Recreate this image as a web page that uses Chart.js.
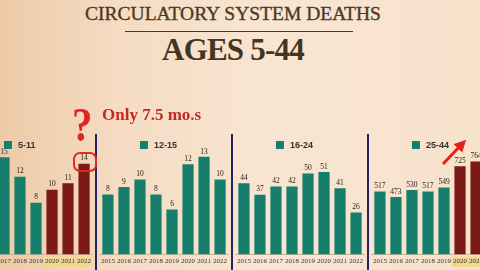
<!DOCTYPE html>
<html>
<head>
<meta charset="utf-8">
<script src="https://cdn.jsdelivr.net/npm/chart.js@4/dist/chart.umd.min.js"></script>
<style>
  html, body { margin:0; padding:0; }
  body {
    width:480px; height:270px; overflow:hidden; position:relative;
    background: linear-gradient(90deg, #eecaa7 0%, #f5dcc3 25%, #f8e5d2 55%, #f7e2cc 100%);
    font-family: "Liberation Serif", serif;
  }
  .panel { position:absolute; top:126px; width:130px; height:141px; }
  .divider { position:absolute; top:134px; width:2px; height:136px; background:#23235f; }
  #t1 { position:absolute; left:0; width:466px; top:3px; text-align:center; font-size:19.5px; color:#4a3a22; -webkit-text-stroke:0.35px #4a3a22; }
  #rule { position:absolute; left:125px; width:228px; top:31px; height:1px; background:#4a3a22; }
  #t2 { position:absolute; left:0; width:466px; top:32px; text-align:center; font-size:31px; font-weight:bold; color:#45351d; letter-spacing:-0.8px; }
  #q { position:absolute; left:72px; top:101px; font-size:48px; font-weight:bold; color:#e0261c; line-height:1; transform:scaleX(0.85); transform-origin:left top; }
  #note { position:absolute; left:102px; top:105px; font-size:17px; font-weight:bold; color:#c42a25; }
  #ring { position:absolute; left:73px; top:152px; width:20px; height:16px; border:2px solid #e02a20; border-radius:7px; }
</style>
</head>
<body>
<div id="t1">CIRCULATORY SYSTEM DEATHS</div>
<div id="rule"></div>
<div id="t2">AGES 5-44</div>

<div class="panel" style="left:-37px"><canvas id="c1" width="130" height="141"></canvas></div>
<div class="panel" style="left:99px"><canvas id="c2" width="130" height="141"></canvas></div>
<div class="panel" style="left:235px"><canvas id="c3" width="130" height="141"></canvas></div>
<div class="panel" style="left:371px"><canvas id="c4" width="130" height="141"></canvas></div>

<div class="divider" style="left:95px"></div>
<div class="divider" style="left:231px"></div>
<div class="divider" style="left:367px"></div>

<div id="q">?</div>
<div id="note">Only 7.5 mo.s</div>
<div id="ring"></div>
<svg style="position:absolute;left:0;top:0" width="480" height="270">
  <defs>
    <marker id="ah" markerWidth="4" markerHeight="4" refX="2" refY="2" orient="auto">
      <path d="M0,0 L4,2 L0,4 z" fill="#e3231b"></path>
    </marker>
  </defs>
  <line x1="443" y1="164" x2="462" y2="144" stroke="#e3231b" stroke-width="3" marker-end="url(#ah)"></line>
</svg>

<script>
const years = ["2015","2016","2017","2018","2019","2020","2021","2022"];
// first panel: 2015-2016 fall outside the picture; last panel: 2022 outside too
const ages511  = [null, null, 15, 12, 8, 10, 11, 14];
const ages1215 = [8, 9, 10, 8, 6, 12, 13, 10];
const ages1624 = [44, 37, 42, 42, 50, 51, 41, 26];
const ages2544 = [517, 473, 530, 517, 549, 725, 764, null];

const hot511  = [5, 6, 7];   // red bars + yellow year labels
const hot2544 = [5, 6, 7];

const TEAL = "#167f6b";
const RED = "#7c1b15";

const valueLabels = {
  id: "valueLabels",
  afterDatasetsDraw(chart){
    const ctx = chart.ctx;
    const meta = chart.getDatasetMeta(0);
    const data = chart.data.datasets[0].data;
    ctx.save();
    ctx.font = "7.5px 'Liberation Serif'";
    ctx.fillStyle = "#2a2018";
    ctx.textAlign = "center";
    ctx.textBaseline = "bottom";
    meta.data.forEach((bar, i) => {
      if (data[i] == null) return;
      ctx.fillText(String(data[i]), bar.x, bar.y - 1.5);
    });
    ctx.restore();
  }
};

const yearBand = {
  id: "yearBand",
  beforeDraw(chart, args, opts){
    const hot = opts.hot || [];
    if (!hot.length) return;
    const x = chart.scales.x;
    const ctx = chart.ctx;
    const w = x.width / x.ticks.length;
    ctx.save();
    ctx.fillStyle = "#f3d68f";
    hot.forEach(i => {
      const cx = x.getPixelForTick(i);
      ctx.fillRect(cx - w / 2, chart.chartArea.bottom + 2, w, 11);
    });
    ctx.restore();
  }
};

// small legend key inside each panel
const panelKey = {
  id: "panelKey",
  afterDraw(chart){
    const ctx = chart.ctx;
    const a = chart.chartArea;
    const x0 = a.left + 40, y0 = a.top + 15;
    ctx.save();
    ctx.fillStyle = TEAL;
    ctx.fillRect(x0, y0, 8, 8);
    ctx.fillStyle = "#333";
    ctx.font = "bold 9px 'Liberation Sans'";
    ctx.textBaseline = "middle";
    ctx.fillText(chart.data.datasets[0].label, x0 + 14, y0 + 4.5);
    ctx.restore();
  }
};

function makePanel(id, label, values, hot, yMax){
  const colors = values.map((v, i) => hot.includes(i) ? RED : TEAL);
  return new Chart(document.getElementById(id), {
    type: "bar",
    data: {
      labels: years,
      datasets: [{ label: label, data: values, backgroundColor: colors,
        barPercentage: 0.7, categoryPercentage: 1 }]
    },
    options: {
      responsive: false,
      maintainAspectRatio: false,
      animation: false,
      layout: { padding: 0 },
      plugins: {
        legend: { display: false },
        tooltip: { enabled: false },
        yearBand: { hot: hot }
      },
      scales: {
        x: {
          grid: { display: false, drawTicks: false },
          border: { display: true, color: "#c9b49c", width: 1 },
          ticks: {
            color: "#333", padding: 2, maxRotation: 0, autoSkip: false,
            font: { family: "'Liberation Serif'", size: 7 }
          }
        },
        y: { display: false, min: 0, max: yMax }
      }
    },
    plugins: [yearBand, valueLabels, panelKey]
  });
}

makePanel("c1", "5-11", ages511, hot511, 19.8);
makePanel("c2", "12-15", ages1215, [], 17.1);
makePanel("c3", "16-24", ages1624, [], 79.4);
makePanel("c4", "25-44", ages2544, hot2544, 1054);
</script>
</body>
</html>
